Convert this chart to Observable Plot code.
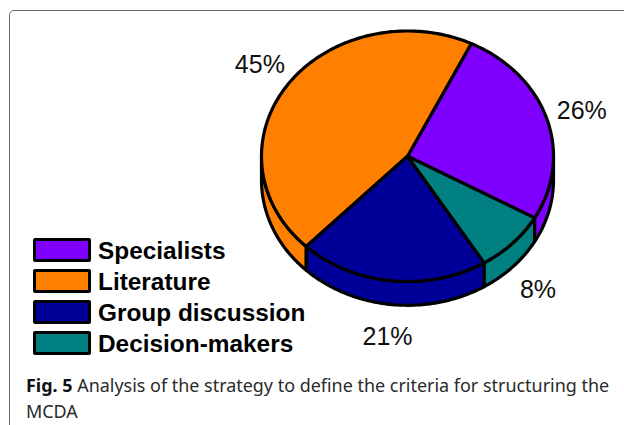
<!DOCTYPE html>
<html>
<head>
<meta charset="utf-8">
<script src="https://cdn.jsdelivr.net/npm/d3@7"></script>
<script src="https://cdn.jsdelivr.net/npm/@observablehq/plot@0.6"></script>
<style>
html,body{margin:0;padding:0;background:#fff;overflow:hidden}
#page{position:relative;width:624px;height:425px;overflow:hidden}
#frame{position:absolute;left:9px;top:10px;width:640px;height:440px;border:1.4px solid #666;border-radius:5px;box-sizing:border-box}
#chart{position:absolute;left:0;top:0}
#chart svg{display:block;background:transparent}
#legend{position:absolute;left:33px;top:238px;font:bold 24.4px "Liberation Sans",Arial,sans-serif;color:#000}
.row{display:flex;align-items:center;height:24px;margin-bottom:7px;white-space:nowrap}
.row span{position:relative;top:1px}
.sw{width:58px;height:24px;box-sizing:border-box;border:3px solid #000;border-radius:2px;margin-right:7px;flex:none}
#caption{position:absolute;left:26px;top:371.5px;width:598px;font:17.95px/26px "Noto Sans",sans-serif;color:#2a2a2a;white-space:nowrap}
#caption b{color:#111}
</style>
</head>
<body>
<div id="page">
  <div id="frame"></div>
  <div id="chart"></div>
  <div id="legend"></div>
  <div id="caption"><b>Fig. 5</b> Analysis of the strategy to define the criteria for structuring the<br>MCDA</div>
</div>
<script>
const categories = ["Specialists", "Literature", "Group discussion", "Decision-makers"];
const percents = [26, 45, 21, 8];
const colors = ["#7f00ff", "#ff7f00", "#000099", "#008080"];

// Layout constants
const startDeg = -29.5, depth = 0.19, labelR = 1.25;
const labelNudgeX = [0, 0.014, -0.004, -0.007], labelNudgeY = [0, 0.022, 0, 0];
const rad = d => d * Math.PI / 180;

const total = d3.sum(percents);
let acc = startDeg;
const slices = categories.map((category, i) => {
  const a0 = acc, a1 = acc + percents[i] / total * 360;
  acc = a1;
  return {category, value: percents[i], a0, a1};
});

const arc = (a0, a1, dy = 0) => {
  const n = Math.max(2, Math.ceil(Math.abs(a1 - a0)));
  return d3.range(n + 1).map(k => {
    const a = rad(a0 + (a1 - a0) * k / n);
    return {x: Math.cos(a), y: Math.sin(a) - dy};
  });
};

// Top faces: centre -> arc -> centre
const tops = slices.flatMap(s =>
  [{x: 0, y: 0}, ...arc(s.a0, s.a1), {x: 0, y: 0}].map(p => ({...p, category: s.category}))
);

// Side walls: only the part of each slice on the front half of the ellipse
const walls = slices.flatMap(s => {
  const ranges = [[180, 360], [540, 720]]
    .map(([lo, hi]) => [Math.max(lo, s.a0), Math.min(hi, s.a1)])
    .concat([[Math.max(-180, s.a0), Math.min(0, s.a1)]])
    .filter(([a, b]) => b > a);
  return ranges.flatMap(([a, b], j) => {
    const top = arc(a, b), bottom = arc(b, a, depth);
    return [...top, ...bottom, top[0]].map(p => ({...p, category: s.category, part: s.category + j}));
  });
});

const labels = slices.map((s, i) => {
  const m = rad((s.a0 + s.a1) / 2);
  const y = labelR * Math.sin(m);
  return {
    x: labelR * Math.cos(m) + labelNudgeX[i],
    y: (y < 0 ? y - depth : y) + labelNudgeY[i],
    text: s.value + "%"
  };
});

const plot = Plot.plot({
  width: 624,
  height: 372,
  margin: 0,
  x: {domain: [-1, 1], range: [261, 553], axis: null},
  y: {domain: [-1, 1], range: [281, 30.5], axis: null},
  color: {domain: categories, range: colors},
  marks: [
    Plot.line(walls, {x: "x", y: "y", z: "part", fill: "category", stroke: "#000", strokeWidth: 3.2, strokeLinejoin: "round", curve: "linear"}),
    Plot.line(tops, {x: "x", y: "y", z: "category", fill: "category", stroke: "#000", strokeWidth: 3.2, strokeLinejoin: "round", curve: "linear"}),
    Plot.text(labels, {x: "x", y: "y", text: "text", fontSize: 25, fontFamily: "Liberation Sans", fill: "#111", textAnchor: "middle", lineAnchor: "middle", dy: 1})
  ]
});
document.getElementById("chart").append(plot);

const colorOf = plot.scale("color").apply;
const legend = d3.select("#legend");
categories.forEach(c => {
  const row = legend.append("div").attr("class", "row");
  row.append("div").attr("class", "sw").style("background", colorOf(c));
  row.append("span").text(c);
});
</script>
</body>
</html>
